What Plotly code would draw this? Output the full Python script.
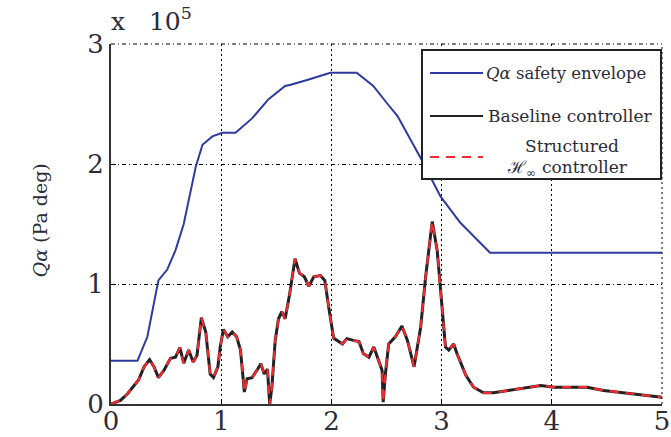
import plotly.graph_objects as go

# ---- data (Q-alpha in units of 1e5 Pa deg, time in s) ----
env_t = [0, 0.24, 0.33, 0.43, 0.51, 0.585, 0.66, 0.77, 0.83, 0.92, 1.01, 1.13, 1.28, 1.43, 1.58,
         1.63, 1.78, 1.99, 2.23, 2.38, 2.51, 2.60, 2.81, 2.99, 3.17, 3.44, 5.0]
env_q = [0.36, 0.36, 0.56, 1.03, 1.12, 1.28, 1.5, 1.98, 2.16, 2.23, 2.26, 2.26, 2.38, 2.54, 2.65,
         2.66, 2.70, 2.76, 2.76, 2.65, 2.50, 2.40, 2.05, 1.73, 1.51, 1.26, 1.26]

resp_t = [0, 0.086, 0.15, 0.21, 0.25, 0.30, 0.35, 0.39, 0.43, 0.48, 0.54, 0.585, 0.625, 0.66, 0.705,
          0.745, 0.78, 0.82, 0.86, 0.90, 0.93, 0.97, 0.99, 1.02, 1.06, 1.10, 1.14, 1.175, 1.21, 1.235,
          1.28, 1.33, 1.36, 1.39, 1.42, 1.44, 1.46, 1.49, 1.52, 1.55, 1.58, 1.62, 1.64, 1.67, 1.71,
          1.755, 1.795, 1.84, 1.90, 1.94, 1.98, 2.02, 2.10, 2.14, 2.20, 2.25, 2.29, 2.34, 2.385, 2.43,
          2.46, 2.47, 2.49, 2.52, 2.58, 2.64, 2.69, 2.75, 2.81, 2.855, 2.915, 2.96, 2.995, 3.035, 3.065,
          3.11, 3.14, 3.22, 3.29, 3.38, 3.47, 3.69, 3.90, 4.02, 4.32, 4.47, 4.68, 5.0]
baseline_q = [0, 0.03, 0.085, 0.155, 0.2, 0.31, 0.37, 0.31, 0.22, 0.28, 0.38, 0.39, 0.47, 0.34, 0.45,
              0.35, 0.405, 0.72, 0.60, 0.25, 0.22, 0.31, 0.47, 0.62, 0.56, 0.60, 0.56, 0.45, 0.10, 0.21,
              0.22, 0.29, 0.335, 0.25, 0.29, 0.0, 0.14, 0.53, 0.71, 0.77, 0.71, 0.91, 1.02, 1.21, 1.09,
              1.06, 0.98, 1.06, 1.07, 1.03, 0.78, 0.55, 0.50, 0.545, 0.53, 0.52, 0.42, 0.39, 0.475, 0.36,
              0.28, 0.015, 0.25, 0.50, 0.56, 0.65, 0.53, 0.31, 0.64, 1.06, 1.52, 1.28, 0.92, 0.475, 0.45,
              0.50, 0.42, 0.24, 0.14, 0.093, 0.093, 0.127, 0.155, 0.14, 0.14, 0.113, 0.09, 0.057]
hinf_q = [0, 0.03, 0.085, 0.155, 0.2, 0.31, 0.37, 0.31, 0.22, 0.28, 0.38, 0.39, 0.47, 0.34, 0.45,
          0.35, 0.405, 0.72, 0.60, 0.25, 0.22, 0.31, 0.47, 0.62, 0.56, 0.60, 0.56, 0.45, 0.10, 0.21,
          0.22, 0.29, 0.335, 0.25, 0.29, 0.0, 0.14, 0.53, 0.71, 0.77, 0.71, 0.91, 1.02, 1.21, 1.09,
          1.06, 0.98, 1.06, 1.07, 1.03, 0.78, 0.55, 0.50, 0.545, 0.53, 0.52, 0.42, 0.39, 0.475, 0.36,
          0.28, 0.015, 0.25, 0.50, 0.56, 0.65, 0.53, 0.31, 0.64, 1.06, 1.52, 1.28, 0.92, 0.475, 0.45,
          0.50, 0.42, 0.24, 0.14, 0.093, 0.093, 0.127, 0.155, 0.14, 0.14, 0.113, 0.09, 0.057]

x_ticks = [0, 1, 2, 3, 4, 5]
y_ticks = [0, 1, 2, 3]
legend_labels = ["<i>Q</i><i>α</i> safety envelope", "Baseline controller", "Structured",
                 "ℋ<sub>∞</sub>", "controller"]

BLUE = "#2e3a9e"
RED = "#f42a30"
SERIF = "DejaVu Serif, Liberation Serif, serif"
TICKCOL = "#2b2b3a"

fig = go.Figure()
fig.add_trace(go.Scatter(x=env_t, y=env_q, mode="lines", line=dict(color=BLUE, width=2)))
fig.add_trace(go.Scatter(x=resp_t, y=baseline_q, mode="lines", line=dict(color="#222222", width=3)))
fig.add_trace(go.Scatter(x=resp_t, y=hinf_q, mode="lines",
                         line=dict(color=RED, width=2.2, dash="9px,7px")))

L, R, T, B = 111, 9, 44, 33
W, H = 671, 437
pw, ph = W - L - R, H - T - B

def px(xp):
    return (xp - L) / pw

def py(yp):
    return (H - B - yp) / ph

fig.update_layout(
    width=W, height=H, margin=dict(l=L, r=R, t=T, b=B, autoexpand=False),
    paper_bgcolor="white", plot_bgcolor="white", showlegend=False,
    font=dict(family=SERIF, color=TICKCOL),
    xaxis=dict(range=[0, 5], tickvals=x_ticks, ticktext=[str(v) for v in x_ticks],
               showgrid=True, gridcolor="black", gridwidth=1, griddash="2px,3px",
               showline=True, linecolor="#333", linewidth=2, ticks="inside", ticklen=5,
               tickcolor="black", tickfont=dict(size=26, family=SERIF, color=TICKCOL),
               ticklabelstandoff=-7,
               zeroline=False, automargin=False),
    yaxis=dict(range=[0, 3], tickvals=y_ticks, ticktext=[str(v) for v in y_ticks],
               showgrid=True, gridcolor="black", gridwidth=1, griddash="4px,3px,1px,3px",
               showline=True, linecolor="#333", linewidth=2, ticks="inside", ticklen=5,
               tickcolor="black", tickfont=dict(size=26, family=SERIF, color=TICKCOL),
               zeroline=False, automargin=False),
)

# top and right frame edges drawn as grid-style lines
fig.add_shape(type="line", xref="paper", yref="paper", x0=0, x1=1, y0=1, y1=1,
              line=dict(color="black", width=1, dash="4px,3px,1px,3px"))
fig.add_shape(type="line", xref="paper", yref="paper", x0=1, x1=1, y0=0, y1=1,
              line=dict(color="black", width=1, dash="2px,3px"))

# y-axis title and exponent label
fig.add_annotation(x=px(40), y=0.51, xref="paper", yref="paper", textangle=-90,
                   text="<i>Q</i><i>α</i> (Pa deg)", showarrow=False,
                   font=dict(size=19, family=SERIF, color=TICKCOL), xanchor="center", yanchor="middle")
fig.add_annotation(x=px(109), y=py(38), xref="paper", yref="paper", xanchor="left", yanchor="bottom",
                   text="x&nbsp;&nbsp; 10<sup>5</sup>", showarrow=False,
                   font=dict(size=25, family=SERIF, color=TICKCOL))

# legend box
fig.add_shape(type="rect", xref="paper", yref="paper", x0=px(422), x1=px(661), y0=py(179), y1=py(50),
              line=dict(color="#222", width=2), fillcolor="white", layer="above")
samples = [(73, BLUE, "solid", 2), (116, "#222", "solid", 2), (157, RED, "9px,7px", 2.2)]
for yy, col, dash, w in samples:
    fig.add_shape(type="line", xref="paper", yref="paper", x0=px(430), x1=px(483), y0=py(yy), y1=py(yy),
                  line=dict(color=col, width=w, dash=dash), layer="above")

def leg_text(txt, xp, yp, anchor, size=17):
    fig.add_annotation(x=px(xp), y=py(yp), xref="paper", yref="paper", xanchor=anchor, yanchor="middle",
                       text=txt, showarrow=False, font=dict(size=size, family=SERIF, color=TICKCOL),
                       borderpad=0)

leg_text(legend_labels[0], 485, 73, "left", 16.5)
leg_text(legend_labels[1], 487, 116, "left")
leg_text(legend_labels[2], 572, 146, "center")
leg_text(legend_labels[3], 537, 168, "right")
leg_text(legend_labels[4], 541, 167, "left")

fig.write_html("out.html")
